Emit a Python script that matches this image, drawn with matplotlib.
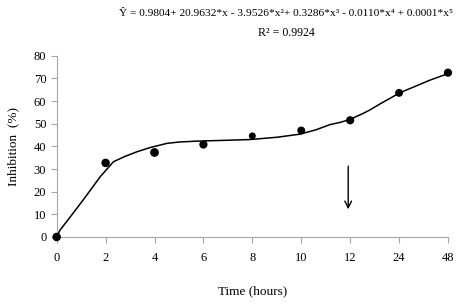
import matplotlib
matplotlib.use("Agg")
import matplotlib.pyplot as plt

plt.rcParams['font.family'] = ['Liberation Serif', 'DejaVu Serif']

# categories (hours) and measured inhibition
hours = ['0', '2', '4', '6', '8', '10', '12', '24', '48']
inhibition = [0.0, 32.7, 37.3, 40.8, 44.6, 47.0, 51.5, 63.6, 72.5]
dot_sizes = [26, 26, 28, 24, 16, 22, 24, 22, 24]

# fitted curve (position index, value)
curve_pos = [0.0, 0.07, 0.3, 0.54, 0.7, 0.89, 1.05, 1.16, 1.4, 1.64, 1.9,
             2.25, 2.5, 2.86, 3.5, 3.95, 4.5, 4.98, 5.3, 5.59, 5.8, 6.0,
             6.27, 6.4, 6.6, 6.8, 7.02, 7.3, 7.63, 8.04]
curve_val = [0.0, 3.1, 9.5, 16.3, 21.0, 26.6, 30.5, 33.2, 35.6, 37.6, 39.4,
             41.3, 41.9, 42.3, 42.7, 43.0, 44.0, 45.4, 47.3, 49.6, 50.6, 51.9,
             54.6, 56.0, 58.6, 61.0, 63.7, 66.2, 69.2, 72.4]

fig = plt.figure(figsize=(4.59, 3.04), dpi=100)
ax = fig.add_axes([0.1235, 0.2204, 0.8525, 0.5964])

pos = list(range(len(hours)))
ax.plot(curve_pos, curve_val, color='black', lw=1.1, clip_on=False, zorder=2)
ax.scatter(pos, inhibition, s=dot_sizes, color='black', clip_on=False, zorder=3)

# arrow at 12 h
ax.annotate('', xy=(5.96, 11.0), xytext=(5.96, 32.5),
            arrowprops=dict(arrowstyle='->', color='black', lw=1.0,
                            mutation_scale=12))

ax.set_xlim(0, 8)
ax.set_ylim(0, 80)
ax.set_xticks(pos)
ax.set_xticklabels(hours)
ax.set_yticks(range(0, 81, 10))

for side in ['top', 'right']:
    ax.spines[side].set_visible(False)
for side in ['left', 'bottom']:
    ax.spines[side].set_color('#a6a6a6')
    ax.spines[side].set_linewidth(0.8)
ax.tick_params(axis='both', colors='#a6a6a6', labelcolor='black',
               labelsize=9, length=4, width=0.8, direction='out')
ax.tick_params(axis='x', pad=7)

ax.set_xlabel('Time (hours)', fontsize=9.5, labelpad=15)
ax.set_ylabel('Inhibition  (%)', fontsize=9.5, labelpad=10)

fig.text(0.624, 0.955,
         'Ŷ = 0.9804+ 20.9632*x - 3.9526*x²+ 0.3286*x³ - 0.0110*x⁴ + 0.0001*x⁵',
         ha='center', va='center', fontsize=8.2)
fig.text(0.624, 0.893, 'R² = 0.9924', ha='center', va='center', fontsize=8.6)

fig.savefig('out.png', dpi=100)
